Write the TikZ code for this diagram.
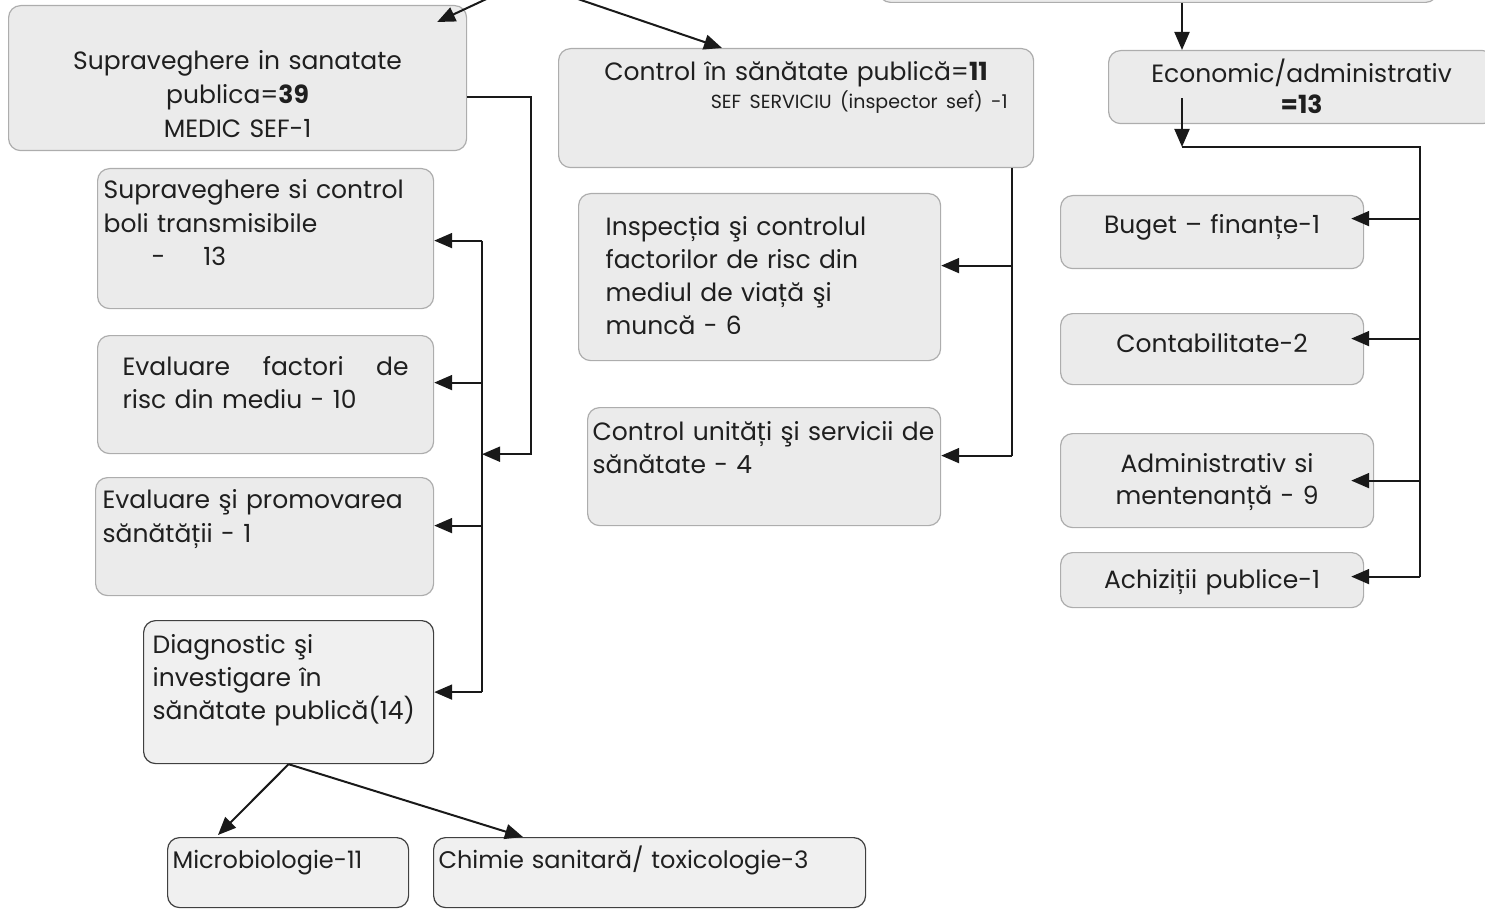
\documentclass[tikz,border=0pt]{standalone}
\usepackage{fontspec}
\setmainfont{Poppins}
\usetikzlibrary{arrows.meta,calc,positioning}

\begin{document}
\begin{tikzpicture}[x=1pt,y=-1pt,>={Triangle[length=18pt,width=15pt]},
    unit box/.style={draw=black!32, line width=1.2pt, fill=black!8, rounded corners=12pt,
        anchor=north west, inner ysep=0pt, text=black!88,
        font=\fontsize{25}{33}\selectfont},
    dark box/.style={unit box, draw=black!75, fill=black!6},
    link/.style={line width=2pt, draw=black!90}
]

\useasboundingbox (0,0) rectangle (1485,909);
\clip (0,0) rectangle (1485,909);

% helper points for the buses
\coordinate (dirbot) at (525,-19);
\coordinate (lbus) at (482,0);
\coordinate (sjog) at (531,0);
\coordinate (mbus) at (1012,0);
\coordinate (rbus) at (1420,0);
\coordinate (ejoin) at (1182,147);

% top row
\node[unit box, anchor=south west, minimum width=559pt, minimum height=80pt, inner sep=0pt] (top2) at (878,3) {};
\node[unit box, align=center, inner xsep=6pt, text width=446pt, text height=64pt, text depth=81pt,
      font=\fontsize{25}{34}\selectfont] (sup) at (8,5)
    {Supraveghere in sanatate\\ publica=\textbf{39}\\ MEDIC SEF-1};
\node[unit box, align=center, inner xsep=26pt, text width=423pt, text height=32pt, text depth=87pt,
      font=\fontsize{25}{28}\selectfont] (ctl) at (558,48)
    {Control în sănătate publică=\textbf{11}\\
     \hspace*{0pt plus 1fill}{\fontsize{19}{28}\selectfont SEF SERVICIU (inspector sef)\ -1}};
\node[unit box, align=center, inner xsep=6pt, text width=374pt, text height=32pt, text depth=41pt,
      font=\fontsize{25}{31}\selectfont] (eco) at (1108,50)
    {Economic/administrativ\\ \textbf{=13}};

% left column
\node[unit box, align=left, inner xsep=6pt, text width=324pt, text height=30pt, text depth=110pt,
      font=\fontsize{25}{33.5}\selectfont] (svc) at (97,168)
    {Supraveghere si control\\ boli transmisibile\\ \hspace*{48pt}-\hspace{38pt}13};
\node[unit box, align=left, inner xsep=25pt, text width=286pt, text height=40pt, text depth=78pt] (erf) at (97,335)
    {Evaluare\hspace{0pt plus 1fill}factori\hspace{0pt plus 1fill}de\\ risc din mediu - 10};
\node[unit box, align=left, inner xsep=7pt, text width=324pt, text height=31pt, text depth=87pt,
      font=\fontsize{25}{34}\selectfont] (eps) at (95,477)
    {Evaluare şi promovarea\\ sănătății - 1};
\node[dark box, align=left, inner xsep=9pt, text width=272pt, text height=33pt, text depth=110pt] (dia) at (143,620)
    {Diagnostic şi\\ investigare în\\ sănătate publică(14)};
\node[dark box, align=left, inner xsep=5pt, text width=231pt, text height=31pt, text depth=39pt,
      font=\fontsize{24}{30}\selectfont] (mic) at (167,837)
    {Microbiologie-11};
\node[dark box, align=left, inner xsep=5pt, text width=422pt, text height=31pt, text depth=39pt,
      font=\fontsize{24}{30}\selectfont] (chi) at (433,837)
    {Chimie sanitară/ toxicologie-3};

% middle column
\node[unit box, align=left, inner xsep=27pt, text width=308pt, text height=42pt, text depth=125pt] (ins) at (578,193)
    {Inspecția şi controlul\\ factorilor de risc din\\ mediul de viață şi\\ muncă - 6};
\node[unit box, align=left, inner xsep=5pt, text width=343pt, text height=33pt, text depth=85pt] (cun) at (587,407)
    {Control unități şi servicii de\\ sănătate - 4};

% right column
\node[unit box, align=center, inner xsep=6pt, text width=291pt, text height=38pt, text depth=35pt] (bug) at (1060,195)
    {Buget – finanțe-1};
\node[unit box, align=center, inner xsep=6pt, text width=291pt, text height=39pt, text depth=32pt] (con) at (1060,313)
    {Contabilitate-2};
\node[unit box, align=center, inner xsep=6pt, text width=301pt, text height=39pt, text depth=55pt,
      font=\fontsize{25}{32}\selectfont] (adm) at (1060,433)
    {Administrativ si\\ mentenanță - 9};
\node[unit box, align=center, inner xsep=6pt, text width=291pt, text height=36pt, text depth=19pt] (ach) at (1060,552)
    {Achiziții publice-1};

% links from above
\draw[link,->] (dirbot) -- ($(sup.north east)+(-30,17)$);
\draw[link,->] (dirbot) -- ($(ctl.north west)+(164,0)$);
\draw[link,->] (top2.south -| ejoin) -- (eco.north -| ejoin);

% left bus
\draw[link,->] ($(sup.east)+(0,18.5)$) -| (erf.south -| sjog) -- (erf.south -| lbus);
\draw[link] ($(svc.east -| lbus)+(0,2)$) -- (dia.east -| lbus);
\draw[link,->] ($(svc.east -| lbus)+(0,2)$) -- ($(svc.east)+(0,2)$);
\draw[link,->] ($(erf.east -| lbus)+(0,-12)$) -- ($(erf.east)+(0,-12)$);
\draw[link,->] ($(eps.east -| lbus)+(0,-11)$) -- ($(eps.east)+(0,-11)$);
\draw[link,->] (dia.east -| lbus) -- (dia.east);
\draw[link,->] (dia.south) -- ($(mic.north west)+(51,-2)$);
\draw[link,->] (dia.south) -- ($(chi.north west)+(90,0)$);

% middle bus
\draw[link] (ctl.south -| mbus) -- ($(cun.east -| mbus)+(0,-11)$);
\draw[link,->] ($(ins.east -| mbus)+(0,-11.5)$) -- ($(ins.east)+(0,-11.5)$);
\draw[link,->] ($(cun.east -| mbus)+(0,-11)$) -- ($(cun.east)+(0,-11)$);

% right bus
\draw[link,->] ($(eco.south -| ejoin)+(0,-26)$) -- (ejoin);
\draw[link] (ejoin) -| ($(ach.east -| rbus)+(0,-3.5)$);
\draw[link,->] ($(bug.east -| rbus)+(0,-13.5)$) -- ($(bug.east)+(-13,-13.5)$);
\draw[link,->] ($(con.east -| rbus)+(0,-10.5)$) -- ($(con.east)+(-13,-10.5)$);
\draw[link,->] (adm.east -| rbus) -- ($(adm.east)+(-23,0)$);
\draw[link,->] ($(ach.east -| rbus)+(0,-3.5)$) -- ($(ach.east)+(-13,-3.5)$);

\end{tikzpicture}
\end{document}
